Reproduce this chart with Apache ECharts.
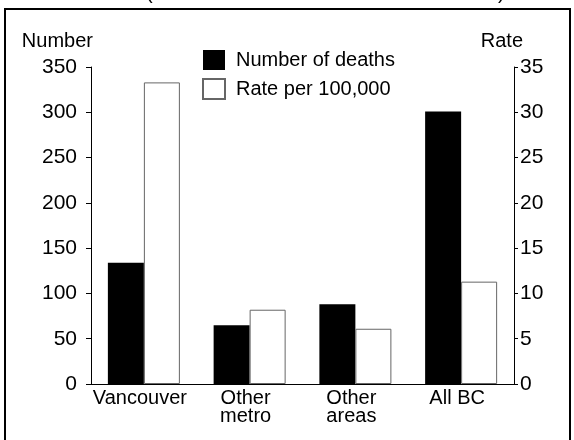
<!DOCTYPE html>
<html>
<head>
<meta charset="utf-8">
<script src="https://cdn.jsdelivr.net/npm/echarts@6/dist/echarts.min.js"></script>
<style>
  html, body { margin: 0; padding: 0; background: #fff; }
  #chart { width: 574px; height: 440px; }
</style>
</head>
<body>
<div id="chart"></div>
<script>
const categories = ['Vancouver', 'Other\nmetro', 'Other\nareas', 'All BC']
const deaths = [134, 65, 88, 301]
const ratePer100k = [33.3, 8.2, 6.1, 11.3]
const numberTicks = { min: 0, max: 350, interval: 50 }
const rateTicks = { min: 0, max: 35, interval: 5 }

const font = 'Liberation Sans, Arial, sans-serif'

const chart = echarts.init(document.getElementById('chart'))

chart.setOption({
  animation: false,
  textStyle: { fontFamily: font, color: '#000' },
  grid: { left: 91, right: 60, top: 67, bottom: 56 },
  legend: {
    orient: 'vertical',
    left: 197,
    top: 45,
    itemWidth: 22,
    itemHeight: 20,
    itemGap: 8,
    textStyle: { fontFamily: font, fontSize: 20, color: '#000', padding: [0, 0, 0, 6] },
    data: [
      { name: 'Number of deaths', icon: 'rect' },
      { name: 'Rate per 100,000', icon: 'rect' }
    ]
  },
  xAxis: {
    type: 'category',
    data: categories,
    axisLine: { lineStyle: { color: '#000', width: 1 } },
    axisTick: { alignWithLabel: true, length: 3, lineStyle: { color: '#000' } },
    axisLabel: {
      interval: 0, fontFamily: font, fontSize: 20, color: '#000',
      margin: 5, lineHeight: 18, padding: [0, 8, 0, 0]
    }
  },
  yAxis: [{
    type: 'value',
    min: numberTicks.min,
    max: numberTicks.max,
    interval: numberTicks.interval,
    name: 'Number',
    nameGap: 16,
    nameTextStyle: { fontFamily: font, fontSize: 20, color: '#000', align: 'right', padding: [0, -2, 0, 0] },
    splitLine: { show: false },
    axisLine: { show: true, lineStyle: { color: '#000', width: 1 } },
    axisTick: { show: true, length: 5, lineStyle: { color: '#000' } },
    axisLabel: { fontFamily: font, fontSize: 21, color: '#000', margin: 14 }
  }, {
    type: 'value',
    min: rateTicks.min,
    max: rateTicks.max,
    interval: rateTicks.interval,
    name: 'Rate',
    nameGap: 16,
    nameTextStyle: { fontFamily: font, fontSize: 20, color: '#000', align: 'right', padding: [0, -9, 0, 0] },
    splitLine: { show: false },
    axisLine: { show: true, lineStyle: { color: '#000', width: 1 } },
    axisTick: { show: true, length: 4, lineStyle: { color: '#000' } },
    axisLabel: { fontFamily: font, fontSize: 21, color: '#000', margin: 6 }
  }],
  series: [{
    name: 'Number of deaths',
    type: 'bar',
    yAxisIndex: 0,
    data: deaths,
    barWidth: 36,
    barGap: '0%',
    itemStyle: { color: '#000' }
  }, {
    name: 'Rate per 100,000',
    type: 'bar',
    yAxisIndex: 1,
    data: ratePer100k,
    barWidth: 36,
    barGap: '0%',
    itemStyle: { color: '#fff', borderColor: '#666', borderWidth: 1 }
  }],
  graphic: [
    // frame round the chart, bottom edge falls outside the picture
    { type: 'rect', shape: { x: 5, y: 9, width: 565, height: 450 }, style: { fill: 'none', stroke: '#000', lineWidth: 2 }, silent: true },
    // cut-off title above the frame
    { type: 'text', x: 146, y: -17, style: { text: '(', font: '20px ' + font, fill: '#000' }, silent: true },
    { type: 'text', x: 498, y: -17, style: { text: ')', font: '20px ' + font, fill: '#000' }, silent: true }
  ]
})
</script>
</body>
</html>
